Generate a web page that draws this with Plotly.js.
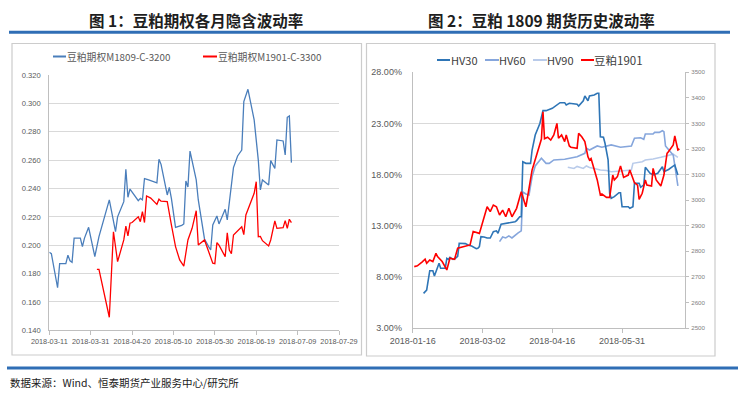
<!DOCTYPE html>
<html><head><meta charset="utf-8">
<script src="https://cdn.plot.ly/plotly-3.0.1.min.js"></script>
<style>html,body{margin:0;padding:0;background:#fff;}#chart{width:738px;height:398px;}</style>
</head><body><div id="chart"></div>
<script>
// ---------- Figure 1: implied volatility ----------
const m1809Dates = ['2018-03-11','2018-03-12','2018-03-15','2018-03-16','2018-03-19','2018-03-20','2018-03-21','2018-03-22','2018-03-23','2018-03-26','2018-03-27','2018-03-28','2018-03-30','2018-04-02','2018-04-04','2018-04-09','2018-04-12','2018-04-13','2018-04-16','2018-04-17','2018-04-18','2018-04-19','2018-04-23','2018-04-24','2018-04-25','2018-04-26','2018-04-28','2018-05-02','2018-05-03','2018-05-04','2018-05-07','2018-05-08','2018-05-09','2018-05-11','2018-05-14','2018-05-15','2018-05-16','2018-05-17','2018-05-18','2018-05-21','2018-05-22','2018-05-25','2018-05-27','2018-05-28','2018-05-29','2018-05-31','2018-06-01','2018-06-04','2018-06-05','2018-06-08','2018-06-10','2018-06-12','2018-06-13','2018-06-15','2018-06-18','2018-06-20','2018-06-21','2018-06-22','2018-06-25','2018-06-26','2018-06-28','2018-06-29','2018-07-02','2018-07-03','2018-07-04','2018-07-05','2018-07-06'];
const m1809Vals = [0.195,0.194,0.170,0.187,0.187,0.193,0.189,0.188,0.205,0.205,0.199,0.205,0.2126,0.192,0.206,0.232,0.2095,0.220,0.2307,0.2535,0.2338,0.2396,0.2314,0.233,0.232,0.247,0.246,0.244,0.2606,0.257,0.2354,0.2408,0.233,0.2126,0.214,0.215,0.2453,0.241,0.2664,0.246,0.2319,0.2044,0.199,0.1966,0.2143,0.2206,0.215,0.2253,0.2178,0.2547,0.2629,0.2671,0.3012,0.3099,0.2883,0.26,0.239,0.246,0.2425,0.2596,0.2542,0.2742,0.2735,0.2636,0.2902,0.2911,0.2582];

const m1901Dates = ['2018-04-03','2018-04-04','2018-04-09','2018-04-11','2018-04-13','2018-04-16','2018-04-17','2018-04-18','2018-04-19','2018-04-20','2018-04-23','2018-04-24','2018-04-25','2018-04-26','2018-04-27','2018-04-29','2018-05-02','2018-05-03','2018-05-04','2018-05-07','2018-05-09','2018-05-11','2018-05-13','2018-05-15','2018-05-17','2018-05-19','2018-05-21','2018-05-22','2018-05-25','2018-05-27','2018-05-29','2018-05-30','2018-05-31','2018-06-01','2018-06-04','2018-06-05','2018-06-06','2018-06-07','2018-06-08','2018-06-12','2018-06-13','2018-06-14','2018-06-16','2018-06-18','2018-06-19','2018-06-20','2018-06-21','2018-06-22','2018-06-25','2018-06-26','2018-06-28','2018-06-29','2018-07-02','2018-07-03','2018-07-04','2018-07-05','2018-07-06'];
const m1901Vals = [0.183,0.183,0.1492,0.2095,0.1884,0.2037,0.2135,0.2065,0.2155,0.216,0.220,0.2166,0.2237,0.216,0.2347,0.2332,0.2288,0.2324,0.231,0.2307,0.2143,0.199,0.1896,0.1853,0.2037,0.2119,0.2243,0.2001,0.2037,0.1954,0.1873,0.187,0.2018,0.200,0.1919,0.2088,0.1966,0.194,0.2072,0.213,0.2075,0.2213,0.2283,0.2366,0.2448,0.206,0.2062,0.2032,0.1995,0.2037,0.2171,0.2119,0.2124,0.2173,0.2119,0.2183,0.2159];

// ---------- Figure 2: historical volatility ----------
const hv30Dates = ['2018-01-23','2018-01-25','2018-01-27','2018-01-29','2018-01-30','2018-02-02','2018-02-03','2018-02-06','2018-02-07','2018-02-08','2018-02-09','2018-02-10','2018-02-11','2018-02-12','2018-02-14','2018-02-15','2018-02-19','2018-02-21','2018-02-23','2018-02-26','2018-02-27','2018-02-28','2018-03-01','2018-03-03','2018-03-05','2018-03-07','2018-03-09','2018-03-11','2018-03-12','2018-03-14','2018-03-16','2018-03-18','2018-03-19','2018-03-23','2018-03-24','2018-03-26','2018-03-27','2018-03-28','2018-03-30','2018-04-02','2018-04-03','2018-04-05','2018-04-08','2018-04-10','2018-04-12','2018-04-14','2018-04-16','2018-04-21','2018-04-24','2018-04-25','2018-04-27','2018-05-02','2018-05-03','2018-05-06','2018-05-07','2018-05-09','2018-05-10','2018-05-13','2018-05-15','2018-05-16','2018-05-17','2018-05-19','2018-05-20','2018-05-22','2018-05-23','2018-05-24','2018-05-26','2018-05-29','2018-05-30','2018-05-31','2018-06-04','2018-06-05','2018-06-07','2018-06-08','2018-06-11','2018-06-12','2018-06-14','2018-06-15','2018-06-18','2018-06-20','2018-06-23','2018-06-26','2018-06-27','2018-06-30','2018-07-03','2018-07-04','2018-07-06'];
const hv30Vals = [6.39,6.71,8.6,8.6,8.08,9.33,8.84,8.84,9.81,9.7,9.9,9.8,9.7,9.75,10.0,11.28,11.25,11.1,11.02,10.75,10.8,10.95,11.93,11.9,11.8,11.8,12.42,12.5,12.26,13.14,13.2,13.2,13.3,13.39,13.5,13.88,13.88,19.26,19.1,19.1,20.4,21.87,23.0,24.25,24.25,24.38,24.48,25.03,25.03,24.8,24.97,24.87,24.7,25.22,25.68,25.22,25.68,25.78,25.95,25.95,21.7,21.65,21.06,19.43,16.17,15.68,15.84,16.23,16.23,14.86,14.86,14.7,14.86,17.15,17.15,16.76,17.0,18.71,18.13,17.96,18.13,18.77,18.28,18.5,18.84,18.94,17.96];

const hv60Dates = ['2018-03-13','2018-03-15','2018-03-17','2018-03-19','2018-03-21','2018-03-23','2018-03-25','2018-03-27','2018-03-28','2018-03-30','2018-04-01','2018-04-03','2018-04-05','2018-04-09','2018-04-12','2018-04-14','2018-04-17','2018-04-24','2018-05-02','2018-05-07','2018-05-08','2018-05-10','2018-05-13','2018-05-15','2018-05-18','2018-05-21','2018-05-24','2018-05-30','2018-06-06','2018-06-08','2018-06-12','2018-06-14','2018-06-15','2018-06-20','2018-06-21','2018-06-24','2018-06-26','2018-06-27','2018-06-28','2018-07-03','2018-07-06'];
const hv60Vals = [11.44,11.9,11.8,12.0,11.8,12.1,12.3,12.5,16.3,16.1,16.0,17.8,18.84,19.6,19.1,19.1,19.43,19.5,19.75,20.08,20.57,20.4,20.67,20.8,20.67,20.8,20.9,20.67,20.8,21.55,21.6,21.45,21.97,21.97,22.13,22.13,22.29,22.2,20.8,19.9,16.9];

const hv90Dates = ['2018-04-26','2018-04-30','2018-05-02','2018-05-06','2018-05-08','2018-05-10','2018-05-13','2018-05-17','2018-05-21','2018-05-24','2018-05-30','2018-06-06','2018-06-07','2018-06-13','2018-06-15','2018-06-20','2018-06-25','2018-06-28','2018-07-03','2018-07-06'];
const hv90Vals = [18.71,18.6,18.8,18.6,18.84,18.7,18.6,18.45,18.4,18.28,18.35,18.45,19.1,19.26,19.43,19.52,19.69,19.82,20.0,19.69];

const priceDates = ['2018-01-17','2018-01-19','2018-01-22','2018-01-24','2018-01-25','2018-01-27','2018-01-29','2018-01-31','2018-02-01','2018-02-04','2018-02-07','2018-02-09','2018-02-12','2018-02-14','2018-02-22','2018-02-24','2018-02-28','2018-03-02','2018-03-05','2018-03-07','2018-03-09','2018-03-11','2018-03-13','2018-03-15','2018-03-17','2018-03-19','2018-03-21','2018-03-24','2018-03-27','2018-03-29','2018-03-30','2018-04-03','2018-04-09','2018-04-10','2018-04-11','2018-04-13','2018-04-15','2018-04-17','2018-04-19','2018-04-20','2018-04-22','2018-04-24','2018-04-25','2018-04-27','2018-04-28','2018-05-02','2018-05-03','2018-05-05','2018-05-07','2018-05-09','2018-05-10','2018-05-11','2018-05-13','2018-05-15','2018-05-17','2018-05-18','2018-05-21','2018-05-23','2018-05-25','2018-05-26','2018-05-28','2018-05-30','2018-06-01','2018-06-04','2018-06-05','2018-06-07','2018-06-08','2018-06-10','2018-06-11','2018-06-13','2018-06-15','2018-06-16','2018-06-19','2018-06-20','2018-06-22','2018-06-25','2018-06-27','2018-06-29','2018-06-30','2018-07-03','2018-07-04','2018-07-06','2018-07-07'];
const priceVals = [2740,2743,2758,2769,2753,2766,2760,2792,2779,2760,2727,2773,2769,2812,2825,2877,2870,2909,2974,2955,2981,2974,2942,2961,2935,2968,2935,2968,3033,2994,2974,3118,3239,3346,3240,3246,3235,3255,3300,3242,3255,3229,3255,3212,3207,3203,3261,3248,3229,3170,3157,3163,3124,3079,3020,3024,3011,3011,3098,3079,3092,3134,3089,3098,3118,3085,3068,3059,3003,3027,3079,3059,3055,3124,3079,3055,3098,3183,3190,3216,3251,3196,3200];

const titles = ['图 1：豆粕期权各月隐含波动率', '图 2：豆粕 1809 期货历史波动率'];
const leftNames = ['豆粕期权M1809-C-3200', '豆粕期权M1901-C-3300'];
const rightNames = ['HV30', 'HV60', 'HV90', '豆粕1901'];
const sourceText = '数据来源：Wind、恒泰期货产业服务中心/研究所';

const W = 738, H = 398;
const X = v => v / W, Y = v => 1 - v / H;
const cjk = '"Noto Sans CJK SC", "Noto Sans", sans-serif';
const lat = '"Liberation Sans", Arial, sans-serif';

const cL1 = '#4a7ebb', cL2 = '#ff0000';
const c30 = '#2e75b6', c60 = '#86a6dc', c90 = '#b9cbea', cP = '#ff0000';

const traces = [
  {x: m1809Dates, y: m1809Vals, name: leftNames[0], type: 'scatter', mode: 'lines', line: {color: cL1, width: 1.3}, xaxis: 'x', yaxis: 'y'},
  {x: m1901Dates, y: m1901Vals, name: leftNames[1], type: 'scatter', mode: 'lines', line: {color: cL2, width: 1.3}, xaxis: 'x', yaxis: 'y'},
  {x: hv90Dates, y: hv90Vals, name: rightNames[2], type: 'scatter', mode: 'lines', line: {color: c90, width: 1.6}, xaxis: 'x2', yaxis: 'y2'},
  {x: hv60Dates, y: hv60Vals, name: rightNames[1], type: 'scatter', mode: 'lines', line: {color: c60, width: 1.6}, xaxis: 'x2', yaxis: 'y2'},
  {x: hv30Dates, y: hv30Vals, name: rightNames[0], type: 'scatter', mode: 'lines', line: {color: c30, width: 1.6}, xaxis: 'x2', yaxis: 'y2'},
  {x: priceDates, y: priceVals, name: rightNames[3], type: 'scatter', mode: 'lines', line: {color: cP, width: 1.6}, xaxis: 'x2', yaxis: 'y3'}
];

const axisGray = '#bfbfbf', gridGray = '#d9d9d9', tickCol = '#595959';
const DAY = 86400000;

const shapes = [
  {type: 'line', xref: 'paper', yref: 'paper', x0: X(9), x1: X(730), y0: Y(32.3), y1: Y(32.3), line: {color: '#2f6eb5', width: 3}},
  {type: 'line', xref: 'paper', yref: 'paper', x0: X(7), x1: X(738), y0: Y(368), y1: Y(368), line: {color: '#2f6eb5', width: 3}},
  {type: 'rect', xref: 'paper', yref: 'paper', x0: X(12), x1: X(361.5), y0: Y(355), y1: Y(43.5), line: {color: '#cccccc', width: 1.2}},
  {type: 'rect', xref: 'paper', yref: 'paper', x0: X(366.5), x1: X(715), y0: Y(356), y1: Y(43.5), line: {color: '#cccccc', width: 1.2}}
];
const annotations = [
  {text: titles[0], xref: 'paper', yref: 'paper', x: X(195.5), y: Y(20), xanchor: 'center', yanchor: 'middle', showarrow: false, font: {family: cjk, size: 15.5, color: '#1e1e1e', weight: 'bold'}},
  {text: titles[1], xref: 'paper', yref: 'paper', x: X(541), y: Y(20), xanchor: 'center', yanchor: 'middle', showarrow: false, font: {family: cjk, size: 15.5, color: '#1e1e1e', weight: 'bold'}},
  {text: sourceText, xref: 'paper', yref: 'paper', x: X(8), y: Y(382), xanchor: 'left', yanchor: 'middle', showarrow: false, font: {family: cjk, size: 10.5, color: '#1a1a1a'}}
];
function legendItem(x0, x1, yc, color, text, tx, size, tcol) {
  shapes.push({type: 'line', xref: 'paper', yref: 'paper', x0: X(x0), x1: X(x1), y0: Y(yc), y1: Y(yc), line: {color: color, width: 2}});
  annotations.push({text: text, xref: 'paper', yref: 'paper', x: X(tx), y: Y(yc), xanchor: 'left', yanchor: 'middle', showarrow: false, font: {family: cjk, size: size, color: tcol}});
}
legendItem(53, 66, 56.5, cL1, leftNames[0], 65, 9.8, '#595959');
legendItem(203, 217, 56.5, cL2, leftNames[1], 216, 9.8, '#595959');
legendItem(437, 450, 60, c30, rightNames[0], 449, 11, '#404040');
legendItem(485, 499, 60, c60, rightNames[1], 497, 11, '#404040');
legendItem(533, 547, 60, c90, rightNames[2], 545, 11, '#404040');
legendItem(581, 594, 60, cP, rightNames[3], 592, 11.5, '#404040');

const layout = {
  width: W, height: H, margin: {l: 0, r: 0, t: 0, b: 0},
  paper_bgcolor: '#ffffff', plot_bgcolor: '#ffffff', showlegend: false,
  xaxis: {domain: [X(49.3), X(339)], type: 'date', range: ['2018-03-11', '2018-07-29'], tick0: '2018-03-11', dtick: 20 * DAY, tickformat: '%Y-%m-%d',
    tickangle: 0, ticks: 'outside', ticklen: 4, tickcolor: axisGray, showline: true, linecolor: axisGray, showgrid: false, zeroline: false,
    tickfont: {family: lat, size: 7.3, color: tickCol}, anchor: 'y'},
  yaxis: {domain: [Y(330.3), Y(75)], range: [0.14, 0.32], dtick: 0.02, tick0: 0.14, tickformat: '.3f', showgrid: true, gridcolor: gridGray,
    showline: true, linecolor: axisGray, zeroline: false, ticks: '', ticklabelstandoff: 6, tickfont: {family: lat, size: 7.6, color: tickCol}, anchor: 'x'},
  xaxis2: {domain: [X(412.7), X(685)], type: 'date', range: ['2018-01-16', '2018-07-10 14:00'], tick0: '2018-01-16', dtick: 45 * DAY, tickformat: '%Y-%m-%d',
    tickangle: 0, ticks: 'outside', ticklen: 4, tickcolor: axisGray, showline: true, linecolor: axisGray, showgrid: false, zeroline: false,
    tickfont: {family: lat, size: 9, color: tickCol}, anchor: 'y2'},
  yaxis2: {domain: [Y(328), Y(72.3)], range: [3, 28], dtick: 5, tick0: 3, tickformat: '.2f', ticksuffix: '%', showgrid: true, gridcolor: gridGray,
    showline: true, linecolor: axisGray, zeroline: false, ticks: '', ticklabelstandoff: 8, tickfont: {family: lat, size: 9, color: tickCol}, anchor: 'x2'},
  yaxis3: {overlaying: 'y2', side: 'right', anchor: 'x2', range: [2500, 3500], dtick: 100, tick0: 2500, showgrid: false, zeroline: false,
    showline: true, linecolor: axisGray, ticks: 'outside', ticklen: 3, tickcolor: axisGray, ticklabelstandoff: 1,
    tickfont: {family: lat, size: 6.2, color: '#7f7f7f'}},
  shapes: shapes, annotations: annotations
};
Plotly.newPlot('chart', traces, layout, {staticPlot: true, displayModeBar: false});
</script></body></html>
